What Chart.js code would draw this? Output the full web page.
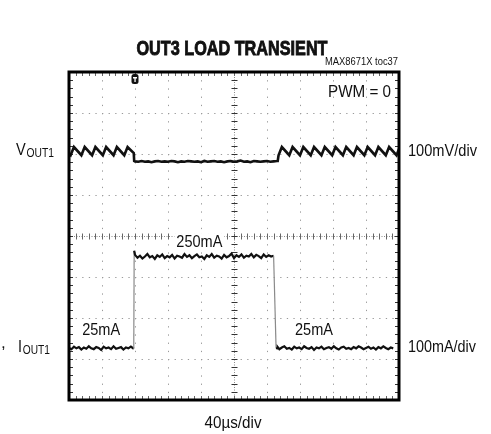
<!DOCTYPE html>
<html><head><meta charset="utf-8">
<script src="https://cdn.jsdelivr.net/npm/chart.js@4.4.0/dist/chart.umd.min.js"></script>
<style>html,body{margin:0;padding:0;background:#fff}canvas{display:block}</style>
</head><body>
<canvas id="c" width="491" height="434"></canvas>
<script>
// ---- scope settings ----
const TIME_MIN = 0, TIME_MAX = 400, TIME_PER_DIV = 40;   // µs, 40µs/div
const DIVS_Y = 8;
const VOUT_MV_PER_DIV = 100;   // 100mV/div
const IOUT_MA_PER_DIV = 100;   // 100mA/div
const VOUT_REF_DIV = 6.07;     // channel 1 position (divisions from bottom)
const IOUT_ZERO_DIV = 1.0;     // channel 2 ground position
const TRIGGER_TIME = 80;       // µs

// ---- VOUT1 trace (AC ripple, mV) ----
const voutTime = [0, 2, 6, 15, 19, 28, 32, 41, 45, 54, 58, 67, 71, 78.5, 79,
  80, 84, 88, 92, 96, 100, 104, 108, 112, 116, 120, 124, 128, 132, 136, 140, 144, 148, 152, 156,
  160, 164, 168, 172, 176, 180, 184, 188, 192, 196, 200, 204, 208, 212, 216, 220, 224, 228, 232,
  236, 240, 244, 248, 252,
  253, 254, 258, 267, 271, 280, 284, 293, 297, 306, 310, 319, 323, 332, 336, 345, 349, 358, 362,
  371, 375, 384, 388, 397, 400];
const voutMv = [-6, -10, 10, -10, 10, -10, 10, -10, 10, -10, 10, -10, 10, -5, -24,
  -25, -26, -24, -26, -25, -27, -25, -24, -26, -25, -26, -24, -25, -27, -25, -26, -24, -25, -26, -25,
  -27, -24, -26, -25, -24, -26, -25, -27, -25, -24, -26, -25, -23, -26, -25, -27, -24, -25, -26,
  -25, -24, -26, -25, -24,
  -24, -10, 10, -10, 10, -10, 10, -10, 10, -10, 10, -10, 10, -10, 10, -10, 10, -10, 10,
  -10, 10, -10, 10, -10, 5];

// ---- IOUT1 trace (mA) ----
const ioutTime = [0, 3, 6, 9, 12, 15, 18, 21, 24, 27, 30, 33, 36, 39, 42, 45, 48, 51, 54, 57, 60,
  63, 66, 69, 72, 75, 78.5,
  79, 80, 83, 86, 89, 92, 95, 98, 101, 104, 107, 110, 113, 116, 119, 122, 125, 128, 131, 134, 137,
  140, 143, 146, 149, 152, 155, 158, 161, 164, 167, 170, 173, 176, 179, 182, 185, 188, 191, 194,
  197, 200, 203, 206, 209, 212, 215, 218, 221, 224, 227, 230, 233, 236, 239, 242, 245, 248, 251,
  252.5, 253,
  255, 258, 261, 264, 267, 270, 273, 276, 279, 282, 285, 288, 291, 294, 297, 300, 303, 306, 309,
  312, 315, 318, 321, 324, 327, 330, 333, 336, 339, 342, 345, 348, 351, 354, 357, 360, 363, 366,
  369, 372, 375, 378, 381, 384, 387, 390, 393, 396, 399];
const ioutMa = [27, 24, 30, 26, 29, 23, 28, 25, 31, 26, 24, 29, 27, 22, 30, 26, 28, 24, 31, 25, 27,
  29, 23, 28, 26, 30, 25,
  264, 254, 247, 252, 245, 250, 256, 248, 251, 244, 253, 249, 255, 246, 251, 248, 254, 245, 252,
  250, 247, 256, 249, 253, 246, 251, 255, 248, 250, 244, 253, 249, 256, 247, 252, 250, 245, 254,
  248, 251, 257, 246, 253, 249, 255, 247, 252, 250, 256, 248, 254, 251, 246, 255, 249, 253, 250,
  252, 27,
  26, 29, 24, 28, 31, 25, 27, 23, 30, 26, 28, 24, 31, 27, 25, 29, 22, 28, 26, 30, 24, 27, 29, 25,
  31, 26, 23, 28, 30, 25, 27, 24, 29, 26, 31, 28, 24, 27, 30, 25, 28, 23, 29, 26, 31, 27, 24, 28, 26];

// ---- annotations (time µs, current mA on IOUT channel) ----
const currentLabels = ['25mA', '250mA', '25mA'];
const currentLabelTime = [39, 158, 297];
const currentLabelMa = [58, 273, 58];

const voutPts = voutTime.map((t, i) => ({x: t, y: VOUT_REF_DIV + voutMv[i] / VOUT_MV_PER_DIV}));
const ioutPts = ioutTime.map((t, i) => ({x: t, y: IOUT_ZERO_DIV + ioutMa[i] / IOUT_MA_PER_DIV}));

const SANS = '"Liberation Sans",Arial,sans-serif';

function fitText(ctx, txt, x, y, font, w, align, stroke) {
  ctx.save();
  ctx.font = font;
  ctx.textAlign = 'left';
  ctx.textBaseline = 'alphabetic';
  const m = ctx.measureText(txt).width;
  const s = w ? w / m : 1;
  const ww = m * s;
  const x0 = align === 'center' ? x - ww / 2 : align === 'right' ? x - ww : x;
  ctx.translate(x0, y);
  ctx.scale(s, 1);
  ctx.fillStyle = '#111';
  ctx.fillText(txt, 0, 0);
  if (stroke) { ctx.strokeStyle = '#111'; ctx.lineWidth = stroke; ctx.strokeText(txt, 0, 0); }
  ctx.restore();
  return ww;
}

function subLabel(ctx, main, sub, x, y, w) {
  ctx.save();
  ctx.font = '17px ' + SANS;
  const m1 = ctx.measureText(main).width;
  ctx.font = '12px ' + SANS;
  const m2 = ctx.measureText(sub).width;
  const s = w / (m1 + m2 + 1);
  ctx.translate(x, y);
  ctx.scale(s, 1);
  ctx.fillStyle = '#111';
  ctx.font = '17px ' + SANS;
  ctx.fillText(main, 0, 0);
  ctx.font = '12px ' + SANS;
  ctx.fillText(sub, m1 + 1, 2);
  ctx.restore();
}

const scopePlugin = {
  id: 'scope',
  beforeDatasetsDraw(chart) {
    const {ctx, chartArea: a, scales: {x, y}} = chart;
    ctx.save();
    const cx = Math.round(x.getPixelForValue((TIME_MIN + TIME_MAX) / 2)) + 0.5;
    const cy = Math.round(y.getPixelForValue(DIVS_Y / 2)) + 0.5;
    ctx.strokeStyle = '#8a8a8a';
    ctx.lineWidth = 1;
    ctx.setLineDash([1, 1.5]);
    ctx.beginPath();
    ctx.moveTo(a.left, cy); ctx.lineTo(a.right, cy);
    ctx.moveTo(cx, a.top); ctx.lineTo(cx, a.bottom);
    ctx.stroke();
    ctx.setLineDash([]);
    ctx.beginPath();
    ctx.strokeStyle = '#666';
    for (let k = 1; k < 50; k++) {
      const px = Math.round(x.getPixelForValue(TIME_MIN + k * TIME_PER_DIV / 5)) + 0.5;
      ctx.moveTo(px, cy - 3); ctx.lineTo(px, cy + 3);
      ctx.moveTo(px, a.top); ctx.lineTo(px, a.top + 4);
      ctx.moveTo(px, a.bottom - 4); ctx.lineTo(px, a.bottom);
    }
    ctx.stroke();
    ctx.beginPath();
    ctx.strokeStyle = '#333';
    for (let k = 1; k < DIVS_Y * 5; k++) {
      const py = Math.round(y.getPixelForValue(k / 5)) + 0.5;
      ctx.moveTo(cx - 3, py); ctx.lineTo(cx + 3, py);
      ctx.moveTo(a.left, py); ctx.lineTo(a.left + 4, py);
      ctx.moveTo(a.right - 4, py); ctx.lineTo(a.right, py);
    }
    ctx.stroke();
    ctx.restore();
  },
  afterDatasetsDraw(chart) {
    const {ctx, chartArea: a, scales: {x, y}} = chart;
    ctx.save();
    ctx.strokeStyle = '#000';
    ctx.lineWidth = 3;
    ctx.strokeRect(a.left, a.top, a.right - a.left, a.bottom - a.top);
    const tx = x.getPixelForValue(TRIGGER_TIME);
    ctx.fillStyle = '#111';
    ctx.beginPath();
    ctx.roundRect(tx - 3.5, a.top + 2, 7, 10, 2.5);
    ctx.fill();
    ctx.fillStyle = '#fff';
    ctx.fillRect(tx - 2, a.top + 5, 4, 1.5);
    ctx.fillRect(tx - 0.6, a.top + 5, 1.3, 5);
    currentLabels.forEach((t, i) => {
      const px = x.getPixelForValue(currentLabelTime[i]);
      const py = y.getPixelForValue(IOUT_ZERO_DIV + currentLabelMa[i] / IOUT_MA_PER_DIV);
      const w = t.length === 5 ? 46 : 38;
      ctx.fillStyle = '#fff';
      ctx.fillRect(px - w / 2 - 2, py - 14, w + 4, 16);
      fitText(ctx, t, px, py, '17px ' + SANS, w, 'center');
    });
    fitText(ctx, 'PWM = 0', a.right - 71, a.top + 25, '17px ' + SANS, 63, 'left');
    ctx.restore();
  },
  afterDraw(chart) {
    const {ctx} = chart;
    fitText(ctx, 'OUT3 LOAD TRANSIENT', 232, 55, 'bold 21px ' + SANS, 191, 'center', 0.9);
    fitText(ctx, 'MAX8671X toc37', 398, 65, '10px ' + SANS, 73, 'right');
    subLabel(ctx, 'V', 'OUT1', 16, 155, 38);
    subLabel(ctx, 'I', 'OUT1', 18, 352, 32);
    fitText(ctx, ',', 1, 348, '17px ' + SANS, 0, 'left');
    fitText(ctx, '100mV/div', 408, 156, '17px ' + SANS, 69, 'left');
    fitText(ctx, '100mA/div', 408, 352, '17px ' + SANS, 68, 'left');
    fitText(ctx, '40\u00b5s/div', 233, 428, '17px ' + SANS, 57, 'center');
  }
};

const gridColor = (c, center) => (c.tick && c.tick.value === center) ? 'rgba(0,0,0,0)' : '#9a9a9a';

new Chart(document.getElementById('c'), {
  type: 'line',
  data: {
    datasets: [
      {label: 'VOUT1', data: voutPts, borderColor: '#111', borderWidth: 2.6, pointRadius: 0, tension: 0},
      {label: 'IOUT1', data: ioutPts, borderColor: '#111', borderWidth: 2.2, pointRadius: 0, tension: 0,
        segment: {
          borderColor: c => Math.abs(c.p1.parsed.y - c.p0.parsed.y) > 0.8 ? '#8a8a8a' : undefined,
          borderWidth: c => Math.abs(c.p1.parsed.y - c.p0.parsed.y) > 0.8 ? 1.2 : undefined
        }}
    ]
  },
  options: {
    responsive: false,
    animation: false,
    devicePixelRatio: 1,
    layout: {padding: {left: 69, right: 92, top: 72, bottom: 34}},
    plugins: {legend: {display: false}, title: {display: false}, tooltip: {enabled: false}},
    scales: {
      x: {
        type: 'linear', min: TIME_MIN, max: TIME_MAX,
        ticks: {display: false, stepSize: TIME_PER_DIV},
        border: {display: false, dash: [1.3, 6.9]},
        grid: {drawTicks: false, lineWidth: 1, color: c => gridColor(c, (TIME_MIN + TIME_MAX) / 2)}
      },
      y: {
        type: 'linear', min: 0, max: DIVS_Y,
        ticks: {display: false, stepSize: 1},
        border: {display: false, dash: [1.3, 5.3]},
        grid: {drawTicks: false, lineWidth: 1, color: c => gridColor(c, DIVS_Y / 2)}
      }
    }
  },
  plugins: [scopePlugin]
});
</script>
</body></html>
